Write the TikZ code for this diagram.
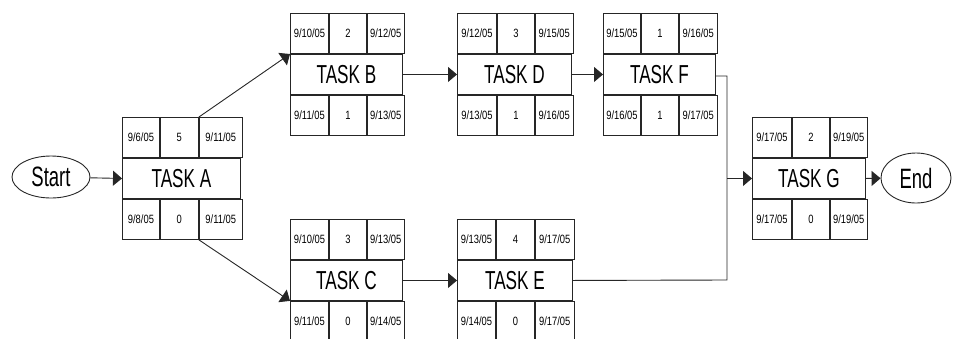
\documentclass[tikz,border=0pt]{standalone}
\usepackage{fontspec}
\newfontfamily\bigf[FakeStretch=0.66]{Liberation Sans}
\newfontfamily\smallf[FakeStretch=0.78]{Liberation Sans}
\usetikzlibrary{arrows.meta,shapes.geometric}
\tikzset{
  cell/.style={draw=black!85, line width=0.9pt, inner sep=0pt, minimum height=40pt,
    font=\smallf\fontsize{12}{12}\selectfont},
  midrow/.style={draw=black!85, line width=0.9pt, inner sep=0pt, minimum height=40pt,
    font=\bigf\fontsize{26}{26}\selectfont},
  term/.style={ellipse, draw=black!85, line width=0.9pt, inner sep=0pt,
    font=\bigf\fontsize{28}{28}\selectfont},
  link/.style={draw=black!85, line width=0.9pt},
  arr/.style={link, -{Triangle[length=9pt,width=15pt]}},
}
% #1 name, #2 NW corner of middle row, #3 label, #4-#6 top cells, #7-#9 bottom cells
\newcommand\taskbox[9]{%
  \pgfmathsetmacro\twsum{\cwa+\cwb+\cwc}%
  \node[midrow, minimum width=\twsum pt, anchor=north west] (#1) at #2 {#3};
  \node[cell, minimum width=\cwa pt, anchor=south west] (#1t1) at (#1.north west) {#4};
  \node[cell, minimum width=\cwb pt, anchor=south west] (#1t2) at (#1t1.south east) {#5};
  \node[cell, minimum width=\cwc pt, anchor=south west] (#1t3) at (#1t2.south east) {#6};
  \node[cell, minimum width=\cwa pt, anchor=north west] (#1b1) at (#1.south west) {#7};
  \node[cell, minimum width=\cwb pt, anchor=north west] (#1b2) at (#1b1.north east) {#8};
  \node[cell, minimum width=\cwc pt, anchor=north west] (#1b3) at (#1b2.north east) {#9};
}
\begin{document}
\begin{tikzpicture}[x=1pt, y=-1pt]
\useasboundingbox (0,0) rectangle (953,338);

\def\cwa{37}\def\cwb{38}\def\cwc{43}
\taskbox{A}{(122,158)}{TASK A}{9/6/05}{5}{9/11/05}{9/8/05}{0}{9/11/05}
\def\cwa{38}\def\cwb{37}\def\cwc{37}
\taskbox{B}{(290,54)}{TASK B}{9/10/05}{2}{9/12/05}{9/11/05}{1}{9/13/05}
\def\cwa{39}\def\cwb{37}\def\cwc{38}
\taskbox{D}{(457,54)}{TASK D}{9/12/05}{3}{9/15/05}{9/13/05}{1}{9/16/05}
\def\cwa{37}\def\cwb{37}\def\cwc{38}
\taskbox{F}{(603,54)}{TASK F}{9/15/05}{1}{9/16/05}{9/16/05}{1}{9/17/05}
\def\cwa{38}\def\cwb{37}\def\cwc{37}
\taskbox{C}{(290,260)}{TASK C}{9/10/05}{3}{9/13/05}{9/11/05}{0}{9/14/05}
\def\cwa{38}\def\cwb{38}\def\cwc{39}
\taskbox{E}{(457,260)}{TASK E}{9/13/05}{4}{9/17/05}{9/14/05}{0}{9/17/05}
\def\cwa{39}\def\cwb{37}\def\cwc{37}
\taskbox{G}{(752,158)}{TASK G}{9/17/05}{2}{9/19/05}{9/17/05}{0}{9/19/05}

\node[term, minimum width=78pt, minimum height=42pt] (start) at (51,177) {Start};
\node[term, minimum width=70pt, minimum height=50pt] (end) at (916,178) {End};

\coordinate (j1) at (727,76);
\coordinate (j2) at (727,280);

\draw[arr] (start) -- (A.west);
\draw[arr] (At3.north west) -- (B.north west);
\draw[arr] (Ab3.south west) -- (C.south west);
\draw[arr] (B.east) -- (D.west);
\draw[arr] (D.east) -- (F.west);
\draw[arr] (C.east) -- (E.west);
\draw[link] (F.east |- j1) -- (j1) -- (j2) -- (E.east);
\draw[arr] (j1 |- G.west) -- (G.west);
\draw[arr] (G.east) -- (end);
\end{tikzpicture}
\end{document}
